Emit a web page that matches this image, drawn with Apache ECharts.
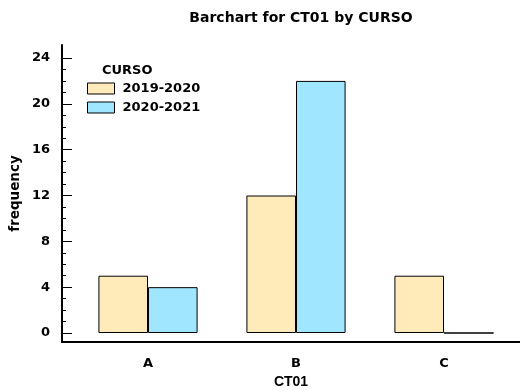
<!DOCTYPE html>
<html>
<head>
<meta charset="utf-8">
<script src="https://cdn.jsdelivr.net/npm/echarts@6/dist/echarts.min.js"></script>
<style>html,body{margin:0;padding:0;background:#fff}#c{width:520px;height:390px}</style>
</head>
<body>
<div id="c"></div>
<script>
const categories = ['A', 'B', 'C'];
const seriesNames = ['2019-2020', '2020-2021'];
const values2019 = [5, 12, 5];
const values2020 = [4, 22, 0];
const yTicks = [0, 4, 8, 12, 16, 20, 24];

const font = 'DejaVu Sans, sans-serif';
const chart = echarts.init(document.getElementById('c'), null, {renderer: 'canvas'});
chart.setOption({
  animation: false,
  backgroundColor: '#fff',
  title: [
    {text: 'Barchart for CT01 by CURSO', left: 301, top: 11, textAlign: 'center', padding: 0,
     textStyle: {fontFamily: font, fontWeight: 'bold', fontSize: 14, color: '#000'}},
    {text: 'CURSO', left: 102, top: 64, padding: 0,
     textStyle: {fontFamily: font, fontWeight: 'bold', fontSize: 13, color: '#000'}}
  ],
  legend: {
    orient: 'vertical', left: 87, top: 82, itemWidth: 27, itemHeight: 11, itemGap: 6,
    padding: 0, icon: 'rect',
    data: seriesNames,
    textStyle: {fontFamily: font, fontWeight: 'bold', fontSize: 13, color: '#000', padding: [0, 0, 0, 3]},
    itemStyle: {borderColor: '#000', borderWidth: 1}
  },
  grid: [
    {left: 74, right: 2, top: 58, bottom: 57, containLabel: false, outerBoundsMode: 'none'},
    {left: 62, right: 0, top: 45, bottom: 48, containLabel: false, outerBoundsMode: 'none'}
  ],
  xAxis: [
    {type: 'category', gridIndex: 0, data: categories, offset: 9,
     axisLine: {show: false}, axisTick: {show: false},
     axisLabel: {margin: 15, fontFamily: font, fontWeight: 'bold', fontSize: 13, color: '#000'}},
    {type: 'value', gridIndex: 1, min: 0, max: 1,
     axisLine: {show: true, onZero: false, lineStyle: {color: '#000', width: 2}},
     axisTick: {show: false}, axisLabel: {show: false}, splitLine: {show: false},
     name: 'CT01', nameLocation: 'middle', nameGap: 33,
     nameTextStyle: {fontFamily: 'Liberation Sans, Arial, sans-serif', fontWeight: 'bold', fontSize: 14, color: '#000'}}
  ],
  yAxis: [
    {type: 'value', gridIndex: 0, min: yTicks[0], max: yTicks[yTicks.length - 1], interval: 4,
     offset: 12,
     axisLine: {show: false},
     axisTick: {show: true, inside: true, length: 10, lineStyle: {color: '#000', width: 1}},
     minorTick: {show: true, splitNumber: 4, length: 4, lineStyle: {color: '#000', width: 1}},
     splitLine: {show: false},
     axisLabel: {margin: 12, fontFamily: font, fontWeight: 'bold', fontSize: 13, color: '#000'}},
    {type: 'value', gridIndex: 1, min: 0, max: 1,
     axisLine: {show: true, onZero: false, lineStyle: {color: '#000', width: 2}},
     axisTick: {show: false}, axisLabel: {show: false}, splitLine: {show: false},
     name: 'frequency', nameLocation: 'middle', nameGap: 40,
     nameTextStyle: {fontFamily: font, fontWeight: 'bold', fontSize: 13.5, color: '#000'}}
  ],
  series: [
    {name: seriesNames[0], type: 'bar', xAxisIndex: 0, yAxisIndex: 0, data: values2019,
     barGap: '0%', barCategoryGap: '33%',
     itemStyle: {color: '#FFEBB9', borderColor: '#000', borderWidth: 1}},
    {name: seriesNames[1], type: 'bar', xAxisIndex: 0, yAxisIndex: 0, data: values2020,
     barGap: '0%', barCategoryGap: '33%',
     itemStyle: {color: '#A0E6FF', borderColor: '#000', borderWidth: 1}}
  ]
});
</script>
</body>
</html>
